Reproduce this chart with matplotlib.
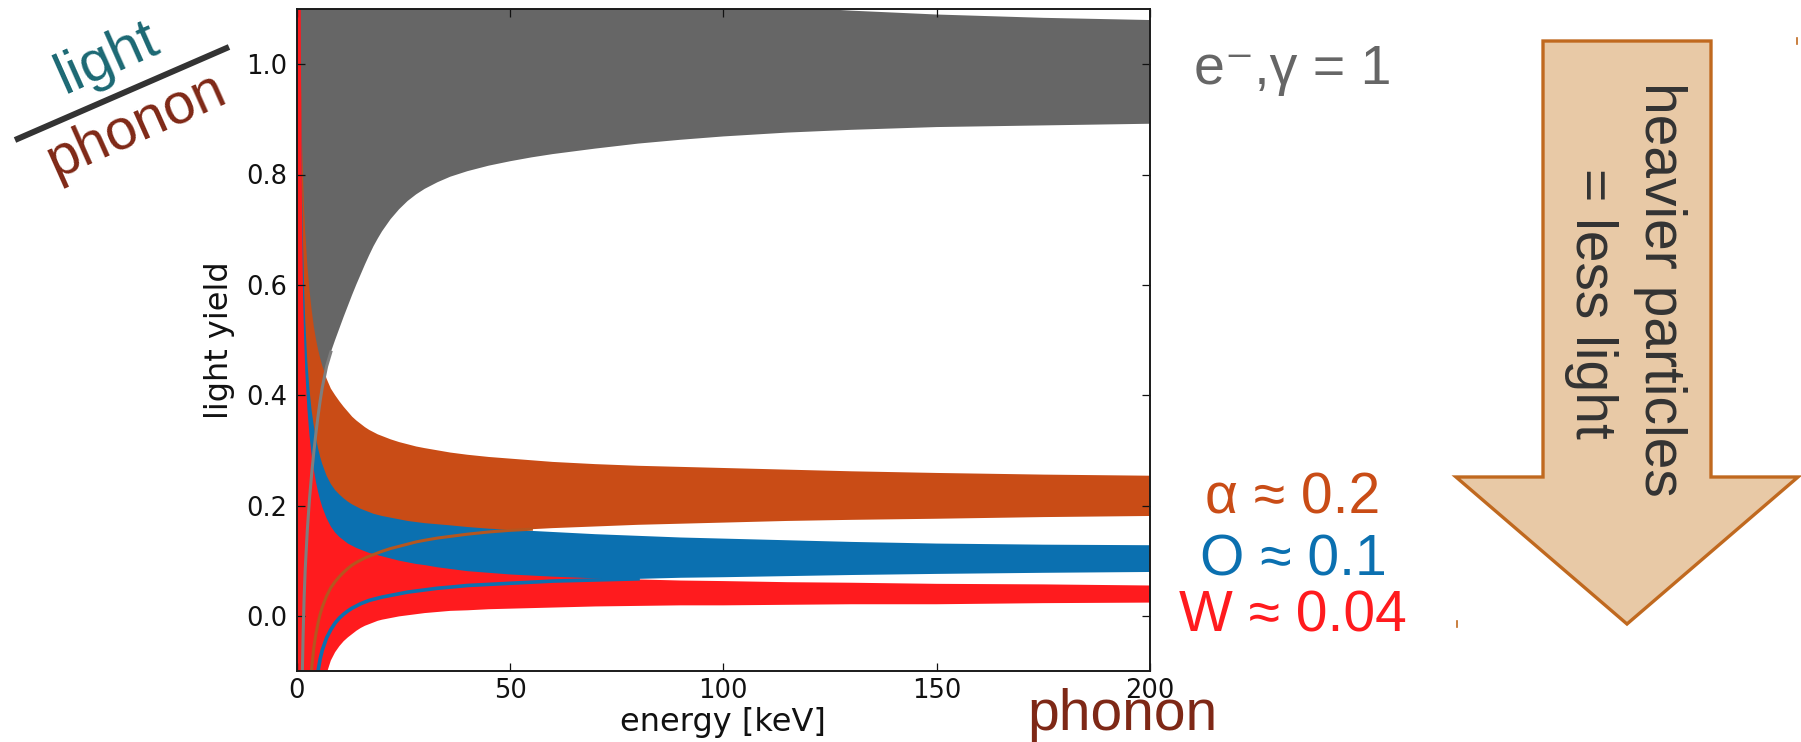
import matplotlib
matplotlib.use("Agg")
import matplotlib.pyplot as plt
from matplotlib.patches import Polygon
from matplotlib.lines import Line2D

# ---------------- data ----------------
energy = [0.1, 0.3, 0.6, 1.0, 1.25, 1.5, 1.75, 2.0, 2.5, 3.0, 3.5, 4.0, 4.5, 5.0, 5.5, 6.0,
          7.0, 8.0, 9.0, 10, 11, 12, 13, 14, 15, 16, 17, 18, 19, 20, 22, 24, 26, 28, 30,
          33, 36, 40, 45, 50, 55, 60, 70, 80, 90, 100, 115, 130, 150, 175, 200]

# e-/gamma band (grey)
gamma_lo = [-6.0, -2.0, -0.9, -0.28, -0.13, -0.035, 0.035, 0.085, 0.157, 0.212, 0.257, 0.296,
            0.331, 0.362, 0.390, 0.414, 0.452, 0.478, 0.500, 0.521, 0.542, 0.562, 0.582,
            0.601, 0.619, 0.637, 0.654, 0.670, 0.684, 0.697, 0.719, 0.737, 0.752, 0.764,
            0.774, 0.786, 0.796, 0.806, 0.816, 0.824, 0.831, 0.837, 0.847, 0.856, 0.863,
            0.869, 0.876, 0.881, 0.886, 0.889, 0.892]
gamma_hi = [8.0, 4.0, 2.9, 2.26, 2.11, 2.015, 1.945, 1.895, 1.823, 1.768, 1.723, 1.684,
            1.649, 1.618, 1.590, 1.566, 1.528, 1.502, 1.480, 1.459, 1.438, 1.418, 1.398,
            1.379, 1.361, 1.343, 1.326, 1.310, 1.296, 1.283, 1.261, 1.243, 1.228, 1.216,
            1.206, 1.194, 1.184, 1.174, 1.164, 1.156, 1.149, 1.143, 1.133, 1.124, 1.117,
            1.111, 1.104, 1.097, 1.090, 1.084, 1.080]

# alpha band (orange)
alpha_lo = [-8.0, -3.5, -1.8, -1.0, -0.75, -0.58, -0.46, -0.37, -0.245, -0.16, -0.095, -0.058,
            -0.033, -0.013, 0.003, 0.016, 0.036, 0.051, 0.062, 0.071, 0.079, 0.086, 0.092,
            0.097, 0.101, 0.105, 0.108, 0.111, 0.114, 0.117, 0.122, 0.126, 0.130, 0.134,
            0.137, 0.141, 0.144, 0.148, 0.152, 0.155, 0.157, 0.159, 0.162, 0.165, 0.167,
            0.169, 0.172, 0.174, 0.176, 0.179, 0.181]
alpha_hi = [8.0, 2.5, 1.4, 0.97, 0.86, 0.79, 0.735, 0.695, 0.635, 0.590, 0.555, 0.525,
            0.502, 0.483, 0.467, 0.453, 0.430, 0.412, 0.400, 0.389, 0.379, 0.370, 0.361,
            0.354, 0.348, 0.342, 0.337, 0.333, 0.329, 0.326, 0.320, 0.315, 0.311, 0.307,
            0.304, 0.300, 0.296, 0.292, 0.288, 0.285, 0.282, 0.279, 0.275, 0.272, 0.270,
            0.268, 0.265, 0.262, 0.259, 0.256, 0.254]

# oxygen recoil band (blue)
oxy_lo = [-10.0, -4.0, -2.0, -1.1, -0.90, -0.74, -0.62, -0.53, -0.40, -0.30, -0.225, -0.170,
          -0.130, -0.100, -0.078, -0.062, -0.040, -0.025, -0.013, -0.004, 0.003, 0.009,
          0.014, 0.018, 0.022, 0.025, 0.028, 0.030, 0.032, 0.034, 0.037, 0.040, 0.043,
          0.045, 0.047, 0.050, 0.052, 0.055, 0.057, 0.059, 0.061, 0.063, 0.065, 0.067,
          0.069, 0.070, 0.072, 0.074, 0.076, 0.078, 0.0795]
oxy_hi = [8.0, 3.0, 1.5, 0.95, 0.78, 0.67, 0.59, 0.535, 0.46, 0.41, 0.372, 0.345, 0.323,
          0.304, 0.288, 0.275, 0.254, 0.239, 0.228, 0.220, 0.213, 0.207, 0.202, 0.198,
          0.194, 0.191, 0.188, 0.185, 0.183, 0.181, 0.178, 0.175, 0.172, 0.170, 0.168,
          0.166, 0.164, 0.161, 0.158, 0.156, 0.154, 0.152, 0.148, 0.145, 0.142, 0.140,
          0.137, 0.134, 0.131, 0.129, 0.128]

# tungsten recoil band (red)
w_lo = [-15.0, -5.0, -2.5, -1.5, -1.2, -0.98, -0.83, -0.71, -0.54, -0.43, -0.345, -0.285,
        -0.237, -0.198, -0.168, -0.143, -0.105, -0.081, -0.066, -0.055, -0.046, -0.039,
        -0.033, -0.027, -0.022, -0.018, -0.015, -0.012, -0.009, -0.007, -0.004, -0.001,
        0.001, 0.003, 0.005, 0.007, 0.009, 0.010, 0.012, 0.013, 0.014, 0.015, 0.017,
        0.018, 0.019, 0.019, 0.020, 0.021, 0.021, 0.023, 0.024]
w_hi = [12.0, 4.0, 2.0, 1.0, 0.74, 0.575, 0.50, 0.445, 0.375, 0.327, 0.292, 0.265, 0.243,
        0.225, 0.210, 0.197, 0.177, 0.162, 0.151, 0.143, 0.137, 0.131, 0.127, 0.123,
        0.120, 0.117, 0.114, 0.112, 0.110, 0.108, 0.104, 0.100, 0.097, 0.094, 0.092,
        0.088, 0.085, 0.081, 0.078, 0.075, 0.073, 0.071, 0.068, 0.066, 0.064, 0.063,
        0.061, 0.060, 0.058, 0.057, 0.055]

# energy up to which the lower-edge lines are visible on top of the other bands
gamma_line_end = 8.0
alpha_line_end = 55.0
oxy_line_end = 80.0

xticks = [0, 50, 100, 150, 200]
xtick_labels = ["0", "50", "100", "150", "200"]
yticks = [0.0, 0.2, 0.4, 0.6, 0.8, 1.0]
ytick_labels = ["0.0", "0.2", "0.4", "0.6", "0.8", "1.0"]

band_labels = ["e\u207b,\u03b3 = 1", "\u03b1 \u2248 0.2", "O \u2248 0.1", "W \u2248 0.04"]

# ---------------- style ----------------
C_GRAY = "#666666"
C_ORANGE = "#C94C16"
C_BLUE = "#0B70B0"
C_RED = "#FF1B1E"
C_GRAY_LINE = "#7E7E7E"
C_BROWN_LINE = "#B5561F"
C_TEAL = "#1B6873"
C_MAROON = "#7E2816"
C_DARK = "#333333"
C_ARROW_EDGE = "#C0691F"
SANS = ["Liberation Sans", "DejaVu Sans"]

W, H = 1801, 742
fig = plt.figure(figsize=(W / 100, H / 100), dpi=100)


def fx(x):
    return x / W


def fy(y):
    return 1 - y / H


def upto(xs, ys, xmax):
    pts = [(x, y) for x, y in zip(xs, ys) if x <= xmax]
    return [p[0] for p in pts], [p[1] for p in pts]


ax_left, ax_right, ax_top, ax_bot = 296.7, 1150.0, 9.0, 671.0
ax = fig.add_axes([fx(ax_left), fy(ax_bot), (ax_right - ax_left) / W, (ax_bot - ax_top) / H])

ax.fill_between(energy, gamma_lo, gamma_hi, color=C_GRAY, lw=0)
ax.fill_between(energy, alpha_lo, alpha_hi, color=C_ORANGE, lw=0)
ax.fill_between(energy, oxy_lo, oxy_hi, color=C_BLUE, lw=0)
ax.fill_between(energy, w_lo, w_hi, color=C_RED, lw=0)
ax.plot(*upto(energy, gamma_lo, gamma_line_end), color=C_GRAY_LINE, lw=2.2)
ax.plot(*upto(energy, alpha_lo, alpha_line_end), color=C_BROWN_LINE, lw=2.2)
ax.plot(*upto(energy, oxy_lo, oxy_line_end), color=C_BLUE, lw=2.6)

ax.set_xlim(0, 200)
ax.set_ylim(-0.1, 1.1)
ax.set_xticks(xticks)
ax.set_xticklabels(xtick_labels)
ax.set_yticks(yticks)
ax.set_yticklabels(ytick_labels)
ax.tick_params(direction="in", top=True, right=True, length=5.8, width=0.9,
               labelsize=18.5, colors="#111111")
ax.tick_params(axis="x", pad=5)
ax.tick_params(axis="y", pad=7)
for s in ax.spines.values():
    s.set_linewidth(1.4)
    s.set_color("#1a1a1a")

ax.set_xlabel("energy [keV]", fontsize=23, color="#111111")
ax.xaxis.set_label_coords(0.5, -0.054)
ax.set_ylabel("light yield", fontsize=23, color="#111111")
ax.yaxis.set_label_coords(-0.072, 0.5)

# ---------------- annotations ----------------
# light / phonon fraction at top left
fig.text(fx(107), fy(59), "light", rotation=24, color=C_TEAL, fontsize=42,
         family=SANS, ha="center", va="center", rotation_mode="anchor")
fig.text(fx(136), fy(126), "phonon", rotation=24, color=C_MAROON, fontsize=41,
         family=SANS, ha="center", va="center", rotation_mode="anchor")
fig.add_artist(Line2D([fx(15), fx(229)], [fy(140), fy(47)], transform=fig.transFigure,
                      lw=4.3, color=C_DARK, solid_capstyle="butt"))

# band labels
fig.text(fx(1293), fy(84), band_labels[0], color=C_GRAY, fontsize=40, family=SANS,
         ha="center", va="baseline")
fig.text(fx(1293), fy(513), band_labels[1], color=C_ORANGE, fontsize=41, family=SANS,
         ha="center", va="baseline")
fig.text(fx(1293), fy(575), band_labels[2], color=C_BLUE, fontsize=41, family=SANS,
         ha="center", va="baseline")
fig.text(fx(1293), fy(632), band_labels[3], color=C_RED, fontsize=41, family=SANS,
         ha="center", va="baseline")

# phonon axis label at bottom
fig.text(fx(1122), fy(730), "phonon", color=C_MAROON, fontsize=41, family=SANS,
         ha="center", va="baseline")

# big arrow
arrow_px = [(1543, 41), (1711, 41), (1711, 477), (1798, 477), (1627, 624),
            (1456, 477), (1543, 477)]
fig.add_artist(Polygon([(fx(x), fy(y)) for x, y in arrow_px], closed=True,
                       transform=fig.transFigure, facecolor="#E8C9A6",
                       edgecolor=C_ARROW_EDGE, lw=2.4, joinstyle="miter"))
# tiny corner marks left over from the shape's bounding box
for (x0, y0) in [(1797, 38), (1457, 621)]:
    fig.add_artist(Line2D([fx(x0), fx(x0)], [fy(y0), fy(y0 + 6)], transform=fig.transFigure,
                          lw=1.2, color=C_ARROW_EDGE))
fig.text(fx(1660), fy(289), "heavier particles", rotation=-90, color=C_DARK,
         fontsize=41, family=SANS, ha="center", va="center", rotation_mode="anchor")
fig.text(fx(1591), fy(303), "= less light", rotation=-90, color=C_DARK,
         fontsize=41, family=SANS, ha="center", va="center", rotation_mode="anchor")

fig.savefig("out.png", dpi=100)
